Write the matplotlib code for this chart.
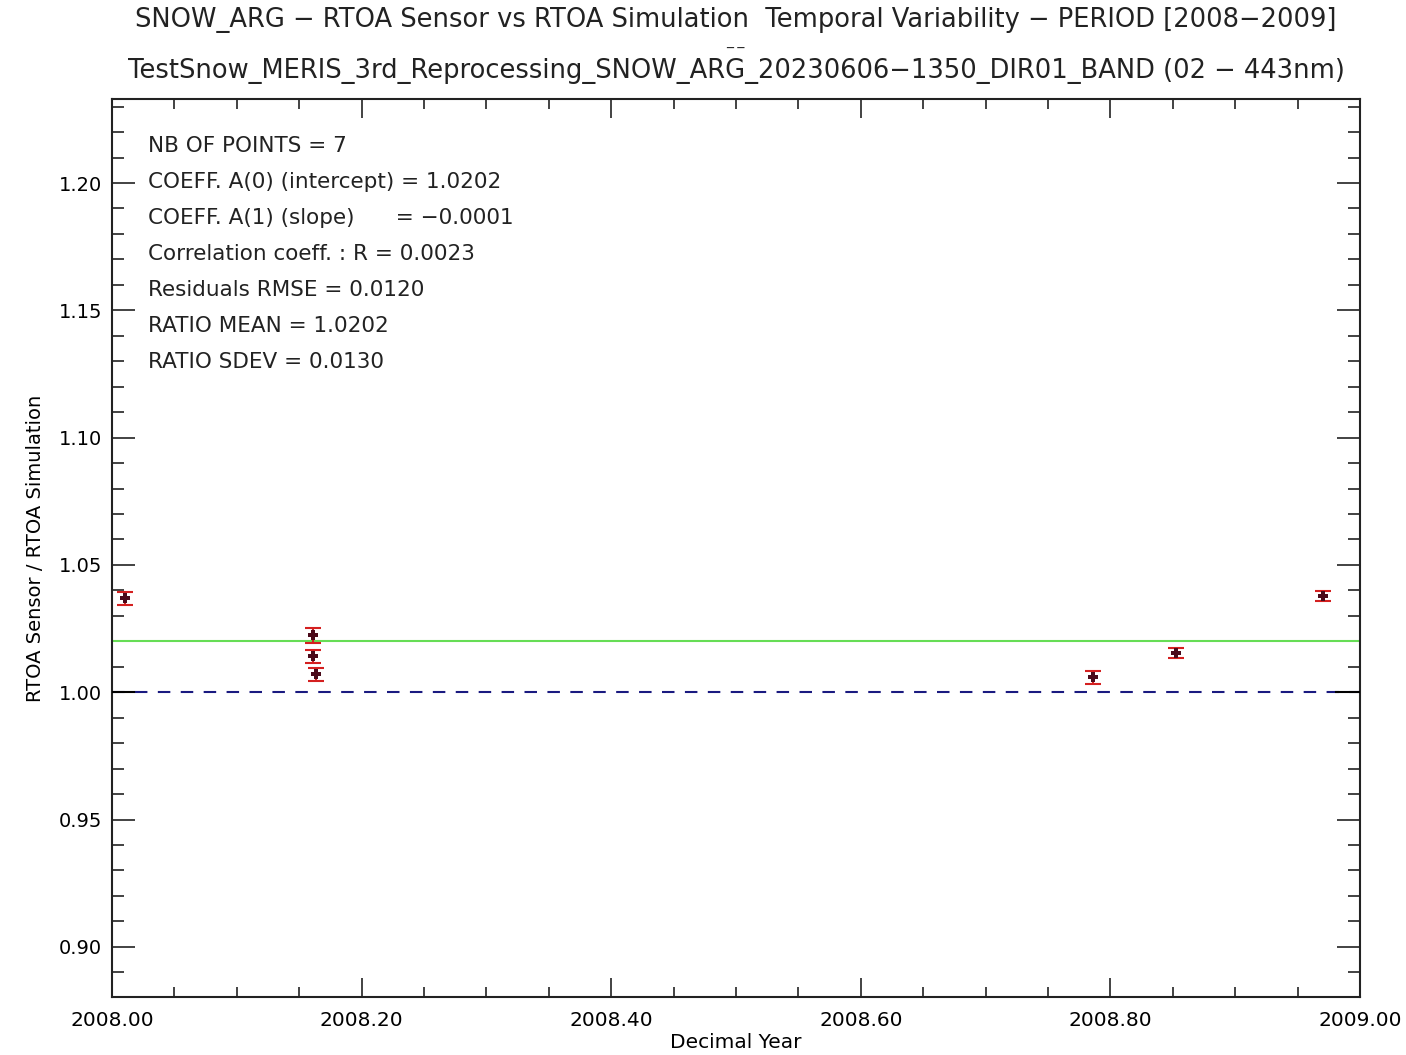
import matplotlib
matplotlib.use("Agg")
import matplotlib.pyplot as plt
from matplotlib.ticker import MultipleLocator, FormatStrFormatter

# Data
dec_year = [2008.0104, 2008.1610, 2008.1610, 2008.1634, 2008.7860, 2008.8526, 2008.9704]
ratio = [1.0369, 1.0224, 1.0141, 1.0071, 1.0059, 1.0153, 1.0377]
ratio_err = [0.0025, 0.0030, 0.0025, 0.0025, 0.0025, 0.0020, 0.0020]
ratio_mean = 1.0202
stats_lines = [
    "NB OF POINTS = 7",
    "COEFF. A(0) (intercept) = 1.0202",
    "COEFF. A(1) (slope)      = \u22120.0001",
    "Correlation coeff. : R = 0.0023",
    "Residuals RMSE = 0.0120",
    "RATIO MEAN = 1.0202",
    "RATIO SDEV = 0.0130",
]
title1 = "SNOW_ARG \u2212 RTOA Sensor vs RTOA Simulation  Temporal Variability \u2212 PERIOD [2008\u22122009]"
title2 = "TestSnow_MERIS_3rd_Reprocessing_SNOW_ARG_20230606\u22121350_DIR01_BAND (02 \u2212 443nm)"

plt.rcParams['font.family'] = ['DejaVu Sans']
fig = plt.figure(figsize=(14.06, 10.55), dpi=100)
W, H = 1406, 1055
ax = fig.add_axes([112 / W, 1 - 997 / H, (1360 - 112) / W, (997 - 99) / H])

ax.set_xlim(2008.0, 2009.0)
ax.set_ylim(0.8803, 1.2330)

ax.axhline(ratio_mean, color='#66dd55', lw=1.5, zorder=2)
ax.axhline(1.0, color='#1a1a80', lw=1.5, dashes=(6, 5), zorder=2)
ax.plot([2008.0, 2008.018], [1.0, 1.0], color='black', lw=1.5, zorder=3)
ax.plot([2008.981, 2009.0], [1.0, 1.0], color='black', lw=1.5, zorder=3)

ax.errorbar(dec_year, ratio, yerr=ratio_err, fmt='none', ecolor='#d42020',
            elinewidth=1.5, capsize=5.5, capthick=1.5, zorder=4)
ax.plot(dec_year, ratio, linestyle='none', marker='P', markersize=7.5,
        color='#4a0a1a', markeredgewidth=0, zorder=5)

ax.xaxis.set_major_locator(MultipleLocator(0.2))
ax.xaxis.set_minor_locator(MultipleLocator(0.05))
ax.yaxis.set_major_locator(MultipleLocator(0.05))
ax.yaxis.set_minor_locator(MultipleLocator(0.01))
ax.xaxis.set_major_formatter(FormatStrFormatter('%.2f'))
ax.yaxis.set_major_formatter(FormatStrFormatter('%.2f'))
ax.tick_params(which='both', direction='in', top=True, right=True, color='#222222',
               width=1.2)
ax.tick_params(axis='x', which='major', length=14, pad=10, labelsize=14.5)
ax.tick_params(axis='x', which='minor', length=7)
ax.tick_params(axis='y', which='major', length=16.5, pad=7, labelsize=14)
ax.tick_params(axis='y', which='minor', length=8.6)
for s in ax.spines.values():
    s.set_linewidth(1.5)
    s.set_color('#222222')

ax.set_xlabel("Decimal Year", fontsize=14.5, labelpad=2)
ax.set_ylabel("RTOA Sensor / RTOA Simulation", fontsize=14, labelpad=10)

for i, line in enumerate(stats_lines):
    fig.text(148 / W, 1 - (146 + 36 * i) / H, line, fontsize=15.5, va='center',
             ha='left', color='#222222')

fig.text(736 / W, 1 - 20 / H, title1, fontsize=18.5, ha='center', va='center', color='#222222')
fig.text(736 / W, 1 - 71 / H, title2, fontsize=18.5, ha='center', va='center', color='#222222')
fig.text(735 / W, 1 - 48 / H, "_ _", fontsize=10, ha='center', va='bottom', color='#222222')

fig.savefig("out.png", dpi=100)
